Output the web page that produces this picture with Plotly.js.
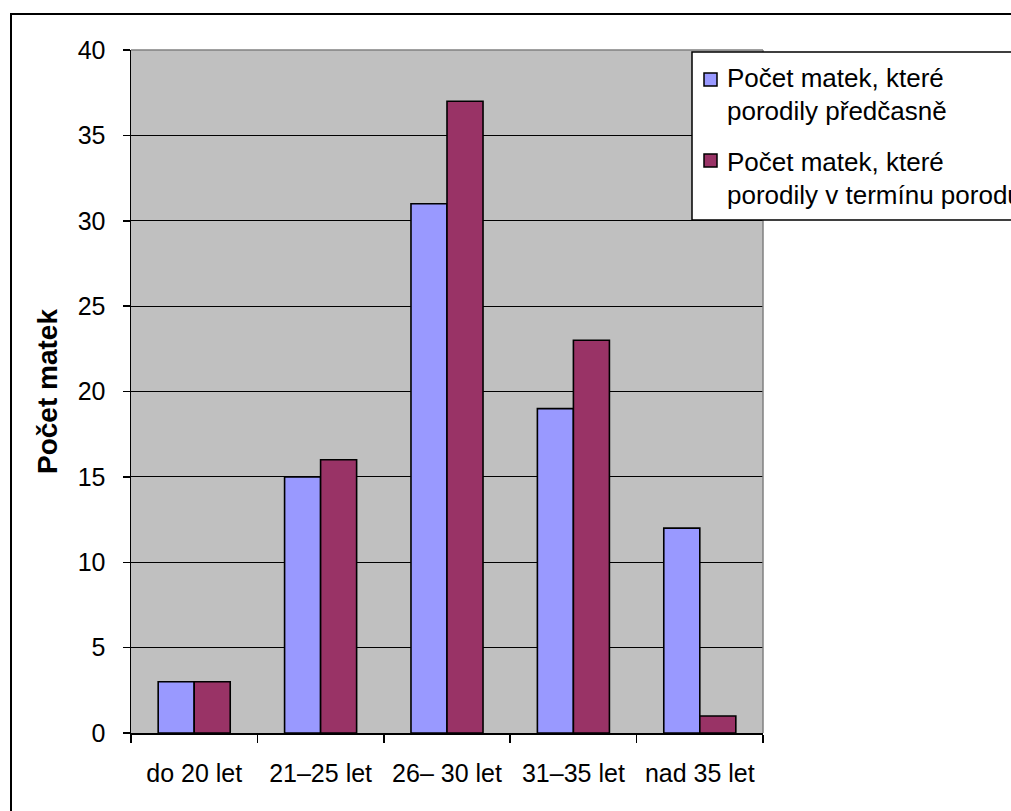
<!DOCTYPE html>
<html>
<head>
<meta charset="utf-8">
<script src="https://cdn.plot.ly/plotly-3.0.1.min.js"></script>
<style>
  html, body { margin: 0; padding: 0; background: #ffffff; }
  #chart { width: 1011px; height: 811px; }
</style>
</head>
<body>
<div id="chart"></div>
<script>
// Věkové skupiny matek
const categories = ['do 20 let', '21–25 let', '26– 30 let', '31–35 let', 'nad 35 let'];
// Počty matek v jednotlivých skupinách
const pretermValues = [3, 15, 31, 19, 12];
const termValues = [3, 16, 37, 23, 1];
const seriesNames = ['Počet matek, které porodily předčasně', 'Počet matek, které porodily v termínu porodu'];
const legendLines = [
  ['Počet matek, které', 'porodily předčasně'],
  ['Počet matek, které', 'porodily v termínu porodu']
];
const seriesColors = ['#9999FF', '#993366'];
const yTickValues = [0, 5, 10, 15, 20, 25, 30, 35, 40];

const W = 1011, H = 811;
const M = { l: 131, r: 248, t: 50, b: 78 };
const pw = W - M.l - M.r, ph = H - M.t - M.b;
const px = v => (v - M.l) / pw;          // pixel -> paper x
const py = v => (H - M.b - v) / ph;      // pixel -> paper y

const font = 'Arial, Liberation Sans, sans-serif';

const traces = [pretermValues, termValues].map((vals, i) => ({
  type: 'bar', x: categories, y: vals, name: seriesNames[i],
  marker: { color: seriesColors[i], line: { color: '#000000', width: 1.6 } },
  hoverinfo: 'x+y'
}));

// Legenda kreslená vlastními tvary a popisky (rámeček přesahuje okraj grafu)
const legendShapes = [
  { type: 'rect', xref: 'paper', yref: 'paper',
    x0: px(692), x1: px(1040), y0: py(220), y1: py(52),
    line: { color: '#000000', width: 1.5 }, fillcolor: '#ffffff' }
];
const legendAnnotations = [];
const itemTop = [73, 154];
const lineBase = [[87, 120], [171, 204]];
seriesColors.forEach((c, i) => {
  legendShapes.push({
    type: 'rect', xref: 'paper', yref: 'paper',
    x0: px(704), x1: px(717), y0: py(itemTop[i] + 13), y1: py(itemTop[i]),
    line: { color: '#000000', width: 1.5 }, fillcolor: c
  });
  legendLines[i].forEach((t, j) => {
    legendAnnotations.push({
      xref: 'paper', yref: 'paper', x: px(725), y: py(lineBase[i][j] - 9),
      xanchor: 'left', yanchor: 'middle', showarrow: false,
      text: t, font: { family: font, size: 26, color: '#000000' }
    });
  });
});

const layout = {
  width: W, height: H,
  margin: M,
  paper_bgcolor: '#ffffff',
  plot_bgcolor: '#C0C0C0',
  barmode: 'group',
  bargap: 0.43,
  bargroupgap: 0,
  font: { family: font, size: 25, color: '#000000' },
  showlegend: false,
  xaxis: {
    type: 'category',
    tickson: 'boundaries',
    ticks: 'outside', ticklen: 8, tickwidth: 1.5, tickcolor: '#000000',
    showline: true, linecolor: '#000000', linewidth: 1.5,
    showgrid: false, zeroline: false,
    tickfont: { family: font, size: 25 },
    ticklabelstandoff: 17,
    automargin: false, fixedrange: true
  },
  yaxis: {
    range: [0, 40],
    tickvals: yTickValues,
    ticks: 'outside', ticklen: 7, tickwidth: 1.5, tickcolor: '#000000',
    showline: true, linecolor: '#000000', linewidth: 1.5,
    showgrid: true, gridcolor: '#000000', gridwidth: 1,
    zeroline: false,
    tickfont: { family: font, size: 25 },
    ticklabelstandoff: 12,
    title: { text: '<b>Počet matek</b>', font: { family: font, size: 28 }, standoff: 12 },
    automargin: false, fixedrange: true
  },
  shapes: [
    // horní a pravý okraj kreslicí plochy
    { type: 'line', xref: 'paper', yref: 'paper', x0: 0, x1: 1, y0: 1, y1: 1,
      line: { color: '#808080', width: 1.5 } },
    { type: 'line', xref: 'paper', yref: 'paper', x0: 1, x1: 1, y0: 0, y1: 1,
      line: { color: '#808080', width: 1.5 } },
    // rámeček celého grafu
    { type: 'rect', xref: 'paper', yref: 'paper', layer: 'below',
      x0: px(11), x1: px(1040), y0: py(840), y1: py(14),
      line: { color: '#000000', width: 2 }, fillcolor: 'rgba(0,0,0,0)' }
  ].concat(legendShapes),
  annotations: legendAnnotations
};

Plotly.newPlot('chart', traces, layout, { displayModeBar: false, staticPlot: true });
</script>
</body>
</html>
